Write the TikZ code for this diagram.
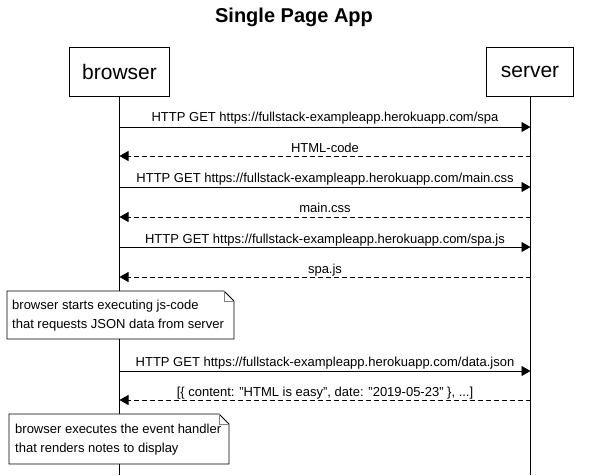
\documentclass[tikz,border=0pt]{standalone}
\usepackage{fontspec}
\setmainfont{Liberation Sans}
\usetikzlibrary{arrows.meta}
\begin{document}
\begin{tikzpicture}[x=1pt,y=-1pt,
  actor/.style={draw,line width=0.8pt,minimum height=49pt,font=\fontsize{21}{24}\selectfont,inner sep=0pt},
  life/.style={line width=0.8pt},
  msg/.style={line width=0.8pt,-{Triangle[length=9pt,width=10pt]}},
  reply/.style={msg,dash pattern=on 5pt off 3pt},
  lbl/.style={font=\fontsize{13}{15}\selectfont,inner sep=0pt,anchor=base},
  notetxt/.style={font=\fontsize{13}{19}\selectfont,align=left,inner sep=0pt,anchor=north west}
]
\useasboundingbox (0,0) rectangle (589,475);
\node[font=\fontsize{20}{24}\selectfont\bfseries] (title) at (294,17) {Single Page App};
\node[actor,minimum width=100pt] (browser) at (119.5,71.5) {browser};
\node[actor,minimum width=87pt] (server) at (530,72) {server};
\coordinate (bend) at (119.5,475);
\coordinate (send) at (530.5,475);
\draw[life] (browser.south) -- (browser.south |- bend);
\draw[life] (530.5,96.5) -- (send);
% message coordinates
\foreach \i/\y in {1/127,2/156,3/187,4/217,5/247,6/277,7/371,8/400}{
  \coordinate (b\i) at (119.5,\y);
  \coordinate (s\i) at (530.5,\y);
}
\draw[msg] (b1) -- (s1) node[lbl,pos=0.5,yshift=6pt] (m1) {HTTP GET https://fullstack-exampleapp.herokuapp.com/spa};
\draw[reply] (s2) -- (b2) node[lbl,pos=0.5,yshift=4pt] (m2) {HTML-code};
\draw[msg] (b3) -- (s3) node[lbl,pos=0.5,yshift=5pt] (m3) {HTTP GET https://fullstack-exampleapp.herokuapp.com/main.css};
\draw[reply] (s4) -- (b4) node[lbl,pos=0.5,yshift=5pt] (m4) {main.css};
\draw[msg] (b5) -- (s5) node[lbl,pos=0.5,yshift=4pt] (m5) {HTTP GET https://fullstack-exampleapp.herokuapp.com/spa.js};
\draw[reply] (s6) -- (b6) node[lbl,pos=0.5,yshift=4pt] (m6) {spa.js};
\draw[msg] (b7) -- (s7) node[lbl,pos=0.5,yshift=5pt] (m7) {HTTP GET https://fullstack-exampleapp.herokuapp.com/data.json};
\draw[reply] (s8) -- (b8) node[lbl,pos=0.5,yshift=4pt] (m8) {[\{ content: "HTML is easy", date: "2019-05-23" \}, ...]};
% note 1
\fill[white] (7,291) rectangle (234,339);
\draw[line width=0.8pt] (7,291) -- (224,291) -- (234,301) -- (234,339) -- (7,339) -- cycle;
\draw[gray,line width=0.5pt] (224,291) -- (224,301) -- (234,301);
\node[notetxt] (n1) at (12,300) {browser starts executing js-code\\that requests JSON data from server};
% note 2
\fill[white] (9,414) rectangle (229,464);
\draw[line width=0.8pt] (9,414) -- (219,414) -- (229,424) -- (229,464) -- (9,464) -- cycle;
\draw[gray,line width=0.5pt] (219,414) -- (219,424) -- (229,424);
\node[notetxt] (n2) at (15,424) {browser executes the event handler\\that renders notes to display};
\end{tikzpicture}
\end{document}
